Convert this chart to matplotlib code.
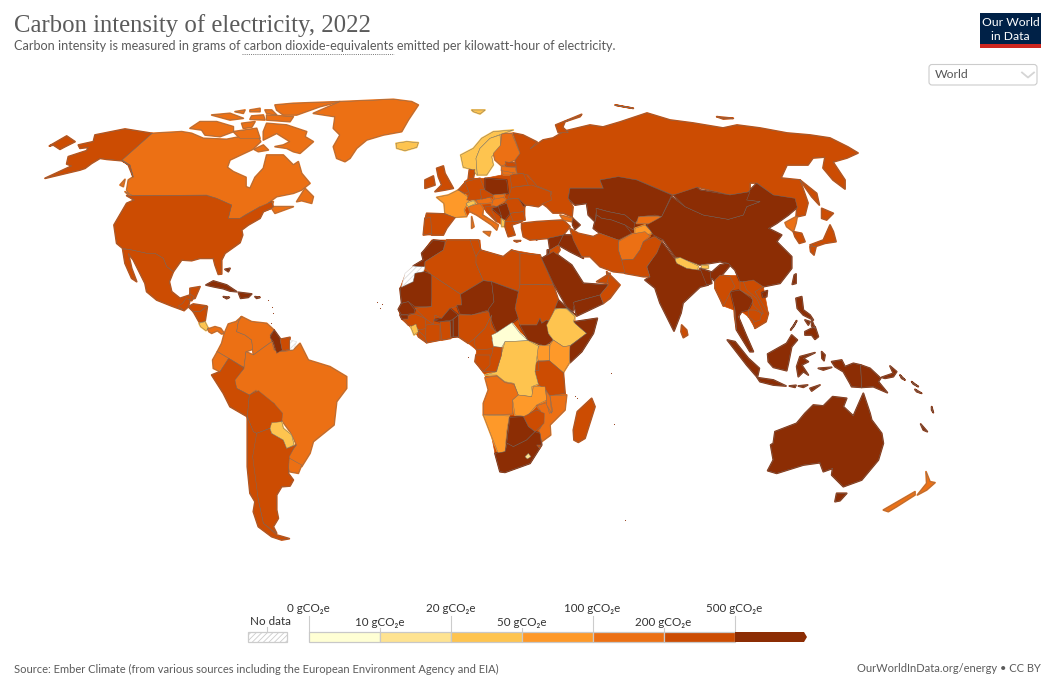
import matplotlib
matplotlib.use('Agg')
import matplotlib.pyplot as plt
from matplotlib.patches import Polygon, Rectangle, FancyBboxPatch

# ---------- legend data ----------
BAND_COLORS = ['#ffffd4', '#fee391', '#fec44f', '#fe9929', '#ec7014', '#cc4c02', '#8c2d04']
BIN_EDGES = [0, 10, 20, 50, 100, 200, 500]
BIN_LABELS = ['0 gCO₂e', '10 gCO₂e', '20 gCO₂e', '50 gCO₂e', '100 gCO₂e', '200 gCO₂e', '500 gCO₂e']

# ---------- map outlines, in local sheets (scale 3) ----------
SHEETS = {'A': (0, 90), 'S': (130, 300), 'E': (390, 110), 'F': (390, 240), 'R': (560, 100), 'O': (640, 280)}
NODATA = -1

# land under the countries, so that traced borders leave no slivers
AFRICA_LAND = [(30,145),(45,105),(70,78),(100,60),(95,40),(125,0),(240,0),(270,0),(272,30),(340,50),(365,30),(450,45),(490,135),(505,180),(555,225),(555,245),(622,235),(610,280),(575,335),(540,368),(520,398),(525,460),(530,465),(525,510),(480,555),(482,585),(455,605),(455,615),(420,670),(345,697),(330,695),(315,640),(305,590),(280,525),(280,490),(295,450),(285,405),(255,365),(258,345),(260,330),(235,310),(205,290),(155,300),(110,308),(85,290),(55,255),(35,238),(25,208),(35,190)]
EUROPE_LAND = [(100,375),(105,325),(110,310),(165,312),(162,280),(140,262),(175,255),(205,240),(225,215),(235,205),(250,205),(270,205),(285,205),(335,195),(335,170),(345,155),(378,160),(440,228),(485,245),(480,265),(445,290),(415,285),(405,285),(405,330),(395,335),(365,345),(375,375),(355,380),(345,350),(320,335),(290,305),(280,295),(278,315),(325,345),(320,360),(305,345),(260,315),(240,305),(230,320),(190,322),(170,355),(160,375)]
CENTRAL_ASIA_LAND = [(25,295),(30,265),(130,265),(120,240),(175,230),(230,240),(335,285),(310,420),(175,425),(120,400),(100,385),(105,365),(85,345),(80,310),(45,315)]
INDOCHINA_LAND = [(225,-15),(385,-10),(370,20),(385,100),(378,125),(345,145),(325,110),(305,95),(295,110),(318,165),(340,215),(330,215),(290,150),(282,90),(250,78),(225,25)]

USA = [(380,317),(620,317),(650,325),(695,345),(685,385),(720,385),(780,350),(815,335),(820,352),(790,365),(780,385),(745,405),(725,420),(728,435),(720,458),(675,490),(665,510),(665,552),(655,553),(645,525),(640,505),(600,505),(575,512),(545,510),(520,545),(500,530),(490,505),(465,490),(440,490),(395,480),(368,475),(350,460),(342,405),(380,340),(403,330)]
ALASKA = [(366,210),(456,130),(375,117),(285,135),(280,155),(235,165),(240,175),(265,172),(260,182),(205,200),(200,222),(215,228),(135,265),(240,240),(255,235),(275,220),(300,205),(320,208),(365,212),(390,225),(400,262),(385,225)]
SEWARD = [(148,168),(200,138),(225,155),(195,170),(180,178),(160,165)]
MEXICO = [(368,477),(395,480),(440,490),(465,490),(490,505),(500,530),(520,545),(508,575),(515,605),(540,625),(570,615),(570,595),(600,590),(585,625),(560,630),(548,660),(515,648),(470,630),(440,605),(435,580),(400,510),(385,490),(395,535),(410,575),(395,565),(375,520)]
CANADA = [(366,210),(456,130),(545,125),(575,130),(610,145),(680,148),(770,130),(782,155),(758,178),(690,210),(682,232),(700,245),(738,262),(738,290),(750,295),(765,262),(790,235),(800,195),(850,195),(880,225),(895,215),(905,250),(930,280),(905,300),(880,310),(830,320),(803,340),(820,335),(815,350),(880,350),(825,370),(815,355),(785,365),(780,350),(735,375),(720,385),(685,385),(695,345),(650,325),(620,315),(390,317),(380,300),(385,270),(400,260),(390,225)]
BAFFIN = [(790,125),(800,100),(860,105),(920,125),(915,140),(940,155),(900,190),(880,185),(860,175),(825,170),(850,165),(870,155),(830,130),(790,150)]
VICTORIA = [(570,115),(600,95),(650,95),(700,110),(700,125),(660,140),(615,135),(605,120)]
ELLESMERE = [(825,45),(880,40),(1020,35),(960,50),(890,75),(850,75),(830,60)]
BANKS = [(635,75),(690,70),(730,85),(690,90)]
ARCTIC1 = [(705,65),(735,60),(730,70)]
ARCTIC2 = [(750,60),(780,55),(780,65),(750,65)]
ARCTIC3 = [(795,60),(815,60),(830,75),(800,70)]
ARCTIC4 = [(755,78),(790,75),(795,90),(750,88)]
ARCTIC5 = [(725,100),(765,95),(755,112),(730,115)]
DEVON = [(800,75),(880,80),(870,95),(800,90)]
SOMERSET = [(700,125),(770,115),(780,145),(720,145)]
SOUTHAMPTON = [(762,178),(790,165),(805,180),(775,185)]
HAIDA = [(360,285),(375,268),(370,290)]
VANCOUVER = [(375,305),(400,330),(395,315)]
NEWFOUNDLAND = [(890,335),(915,295),(940,320),(935,340),(905,332)]
GREENLAND = [(940,70),(1020,35),(1180,28),(1235,35),(1255,45),(1225,90),(1205,125),(1150,135),(1100,150),(1070,175),(1050,205),(1035,215),(1010,205),(1000,170),(1020,135),(1000,115),(1005,80)]
ICELAND = [(1188,160),(1220,155),(1255,158),(1250,172),(1215,182),(1190,175)]
GUATEMALA = [(535,648),(548,640),(558,625),(570,630),(565,650),(552,662)]
BELIZE = [(570,612),(582,620),(575,632),(570,630)]
HONDURAS = [(565,650),(580,642),(620,648),(600,665),(580,665)]
NICARAGUA = [(580,665),(600,665),(622,650),(615,695),(598,697)]
CUBA = [(618,585),(640,573),(680,585),(710,605),(690,603),(670,596),(640,590)]
HISPANIOLA = [(715,607),(755,612),(745,622),(722,625)]
JAMAICA = [(670,620),(688,622),(680,626)]
PUERTO_RICO = [(765,620),(780,622),(770,625)]
BAHAMAS = [(675,538),(690,535),(685,545)]

COSTA_RICA = [(207,70),(225,65),(235,85),(228,92),(212,80)]
PANAMA = [(232,85),(240,85),(255,80),(272,85),(283,100),(275,102),(262,92),(245,100),(237,95)]
COLOMBIA = [(283,100),(275,130),(262,155),(296,175),(305,180),(335,198),(342,200),(348,155),(368,148),(365,120),(345,105),(320,95),(325,65),(335,50),(318,65),(295,72)]
VENEZUELA = [(335,50),(325,65),(320,95),(345,105),(365,120),(370,165),(390,150),(425,125),(420,105),(432,90),(410,70),(365,65)]
ECUADOR = [(262,155),(296,175),(270,215),(250,205),(248,180)]
PERU = [(245,225),(270,215),(296,175),(320,190),(342,205),(315,240),(320,265),(358,285),(352,350),(300,320),(280,280)]
BRAZIL = [(348,155),(370,165),(425,125),(432,150),(460,155),(490,150),(510,130),(535,180),(600,200),(650,230),(650,265),(620,305),(612,375),(550,425),(540,460),(515,500),(470,470),(500,435),(480,395),(458,365),(432,310),(385,290),(378,270),(358,285),(320,265),(313,240),(342,205)]
BOLIVIA = [(358,285),(385,272),(432,310),(458,340),(455,365),(420,385),(380,400),(370,395),(352,352)]
PARAGUAY = [(420,385),(425,368),(455,365),(460,385),(485,405),(492,435),(470,445),(460,420),(425,400)]
GUYANA = [(432,90),(450,115),(457,150),(440,160),(430,125),(420,112)]
SURINAME = [(450,118),(480,112),(478,148),(457,152)]
FRENCH_GUIANA = [(480,120),(500,125),(490,148),(480,148)]
URUGUAY = [(470,470),(515,495),(505,520),(478,515)]
ARGENTINA = [(380,400),(420,385),(425,400),(460,420),(470,445),(497,435),(478,470),(475,520),(490,540),(480,558),(455,560),(440,585),(440,630),(445,655),(430,680),(440,700),(400,670),(385,600),(365,490),(370,420)]
CHILE = [(352,350),(370,395),(380,400),(368,470),(385,600),(400,670),(440,705),(478,716),(455,720),(425,710),(385,680),(370,635),(375,605),(360,580),(352,500)]

NORWAY = [(212,135),(250,115),(275,85),(310,65),(370,60),(335,72),(300,85),(270,115),(258,145),(262,195),(245,178),(220,172)]
SWEDEN = [(258,145),(270,115),(300,85),(330,75),(332,110),(305,140),(310,165),(290,195),(262,195)]
FINLAND = [(335,72),(365,70),(390,130),(375,150),(335,168),(315,150),(310,130),(332,105)]
NOVAYA = [(497,45),(575,13),(570,20),(525,35),(518,52),(535,68),(505,68)]
SVALBARD = [(245,0),(285,0),(270,12),(250,5)]
UK = [(140,175),(160,168),(165,190),(190,235),(165,240),(135,245),(155,225),(145,200)]
IRELAND = [(105,210),(130,198),(135,225),(105,235)]
FRANCE = [(140,262),(175,255),(205,240),(240,265),(222,300),(230,320),(190,322),(165,310),(162,280)]
SPAIN = [(110,310),(165,312),(195,322),(170,355),(160,375),(125,375),(120,335),(105,332)]
PORTUGAL = [(105,325),(122,322),(125,370),(100,375)]
BENELUX = [(205,240),(230,215),(235,245),(225,250)]
GERMANY = [(225,215),(270,205),(285,240),(270,270),(230,270),(238,250)]
DENMARK = [(238,180),(255,178),(250,205),(235,205)]
SWITZERLAND = [(228,280),(250,272),(258,280),(235,290)]
ITALY = [(235,290),(270,280),(280,295),(278,315),(325,345),(320,360),(305,345),(260,315),(240,305)]
SICILY = [(280,365),(302,365),(298,378)]
SARDINIA = [(245,320),(252,350),(245,355)]
AUSTRIA = [(258,270),(300,262),(310,278),(265,282)]
CZECHIA = [(270,238),(305,240),(310,258),(275,268)]
POLAND = [(285,205),(350,210),(355,250),(310,255),(285,240)]
SLOVAKIA = [(310,255),(345,252),(340,265),(315,270)]
HUNGARY = [(310,268),(340,262),(350,270),(320,290),(305,285)]
ROMANIA = [(352,268),(385,265),(405,285),(400,305),(360,310),(345,280)]
MOLDOVA = [(385,265),(398,265),(408,285),(400,290)]
BULGARIA = [(360,310),(400,305),(405,330),(370,335)]
SERBIA = [(322,290),(350,280),(360,310),(345,330),(335,325)]
BOSNIA = [(305,295),(325,290),(335,320)]
CROATIA = [(285,290),(320,290),(305,300),(320,335),(290,305)]
ALBANIA = [(335,325),(345,335),(342,350),(335,350)]
GREECE = [(345,335),(395,335),(365,345),(375,375),(355,380),(345,350)]
CRETE = [(372,392),(392,392),(380,396)]
CYPRUS = [(435,383),(445,382),(440,390)]
UKRAINE = [(365,232),(425,225),(480,245),(485,270),(460,280),(445,290),(415,285),(405,285),(385,265),(355,265)]
BELARUS = [(360,195),(400,190),(415,225),(365,232)]
LITHUANIA = [(335,180),(375,180),(365,195),(340,195)]
LATVIA = [(335,170),(375,172),(380,190),(335,182)]
ESTONIA = [(345,155),(378,160),(378,170),(350,170)]
TURKEY = [(395,340),(440,335),(520,330),(540,350),(520,375),(475,385),(420,390),(400,380),(395,355)]
GEORGIA = [(510,315),(550,325),(545,335),(520,330)]
AZERBAIJAN = [(548,325),(570,345),(555,358),(548,345)]
SYRIA = [(475,385),(520,375),(505,405),(480,420)]
IRAQ = [(520,375),(550,375),(580,445),(540,425),(505,405)]
JORDAN = [(480,420),(505,405),(510,420),(490,450),(475,450)]
ISRAEL = [(472,420),(480,420),(472,445)]

MOROCCO = [(130,0),(165,5),(160,30),(105,65),(103,80),(70,78),(100,60),(95,40)]
W_SAHARA = [(70,78),(105,80),(100,95),(75,100),(70,125),(35,140),(45,100)]
MAURITANIA = [(30,145),(70,125),(75,100),(103,95),(130,105),(125,200),(75,200),(55,185),(35,190)]
ALGERIA = [(105,65),(160,30),(170,0),(240,0),(260,25),(258,70),(280,122),(212,163),(125,105),(105,85)]
TUNISIA = [(240,0),(265,0),(272,30),(258,50)]
LIBYA = [(258,50),(270,30),(340,50),(365,30),(390,40),(390,155),(305,125),(280,122),(258,70)]
EGYPT = [(390,40),(450,45),(490,135),(390,133)]
SUDAN = [(390,133),(490,135),(505,180),(495,205),(480,245),(470,240),(455,250),(450,235),(440,255),(390,255),(375,205),(385,155)]
MALI = [(125,105),(212,163),(215,195),(180,205),(155,235),(135,225),(130,253),(105,235),(75,205),(125,200)]
NIGER = [(215,195),(212,163),(280,122),(305,125),(312,185),(295,210),(245,225),(210,222),(200,195)]
NIGERIA = [(200,225),(245,225),(295,215),(305,225),(285,265),(255,295),(235,310),(205,290)]
CHAD = [(305,125),(385,155),(375,205),(385,235),(365,250),(320,278),(300,230),(295,208),(312,185)]
BENIN = [(190,238),(205,225),(205,290),(190,290)]
TOGO = [(180,240),(190,240),(190,292),(182,292)]
GHANA = [(150,245),(180,245),(182,295),(155,300)]
IVORY_COAST = [(108,255),(130,253),(150,255),(150,300),(110,308),(105,290)]
BURKINA = [(130,240),(155,235),(180,205),(205,225),(185,240),(150,245)]
SENEGAL = [(25,208),(35,190),(55,185),(75,210),(72,220),(35,225)]
GUINEA_B = [(30,225),(55,225),(55,238),(35,238)]
GUINEA = [(35,232),(75,222),(105,235),(108,265),(90,270),(70,260),(55,255)]
SIERRA_L = [(62,260),(78,252),(85,275),(72,285)]
LIBERIA = [(85,272),(105,290),(110,308),(85,290)]
CAMEROON = [(285,265),(305,225),(300,260),(320,278),(305,300),(320,325),(260,330),(252,310),(255,295)]
CAR = [(305,285),(320,278),(365,248),(390,280),(415,302),(345,305),(335,322),(310,320)]
S_SUDAN = [(390,255),(440,255),(450,235),(455,250),(470,240),(480,245),(475,280),(490,300),(465,318),(415,302)]
ERITREA = [(495,205),(505,180),(555,225),(530,205),(510,205)]
ETHIOPIA = [(495,208),(510,205),(530,207),(555,230),(550,245),(590,280),(540,317),(520,320),(490,300),(475,280),(470,255)]
SOMALIA = [(555,245),(622,235),(610,280),(575,335),(540,368),(538,320),(590,280),(555,250)]
KENYA = [(490,300),(520,320),(540,317),(538,368),(520,398),(478,362),(480,315)]
UGANDA = [(445,318),(478,315),(478,362),(445,362),(440,345)]
RWANDA = [(435,368),(445,365),(447,392),(433,390)]
TANZANIA = [(445,365),(478,362),(520,398),(525,460),(480,467),(445,432),(435,395)]
DRC = [(345,305),(415,302),(445,318),(435,395),(445,432),(425,440),(428,470),(385,465),(372,430),(345,425),(320,405),(285,405),(320,395),(335,340)]
CONGO = [(310,320),(335,322),(335,345),(318,395),(280,395),(290,375),(305,345)]
GABON = [(258,345),(300,345),(300,375),(280,395),(255,365)]
ANGOLA = [(285,413),(320,408),(345,428),(372,433),(385,465),(368,480),(368,522),(280,525),(280,490),(295,450)]
ZAMBIA = [(368,480),(385,465),(425,470),(430,440),(465,440),(470,480),(440,495),(410,530),(375,525)]
MALAWI = [(468,450),(480,470),(485,520),(470,495)]
MOZAMBIQUE = [(480,467),(530,465),(525,510),(480,555),(482,585),(455,605),(448,570),(462,545),(450,510),(440,497),(470,488),(478,520),(488,515)]
ZIMBABWE = [(400,530),(440,510),(463,520),(462,550),(435,575),(415,560)]
NAMIBIA = [(280,525),(358,528),(350,575),(345,635),(325,640),(305,590)]
BOTSWANA = [(360,532),(400,530),(415,560),(435,575),(410,600),(370,620),(350,610)]
SOUTH_AFRICA = [(315,640),(345,635),(352,610),(370,620),(410,600),(435,575),(450,580),(455,615),(420,670),(345,697),(330,695)]
LESOTHO = [(405,650),(415,640),(423,650),(412,657)]
ESWATINI = [(440,615),(452,615),(448,625)]
MADAGASCAR = [(550,570),(562,515),(605,475),(615,500),(585,595),(565,607),(552,600)]
SAUDI = [(455,55),(490,35),(545,75),(580,130),(655,135),(630,165),(555,185),(548,215),(530,200),(490,130)]
YEMEN = [(550,187),(630,165),(640,190),(560,228)]
OMAN = [(630,165),(655,135),(650,95),(690,135),(660,175),(640,190)]
UAE = [(650,130),(660,100),(620,125)]

KAZAKHSTAN = [(30,265),(130,265),(120,240),(175,230),(230,240),(335,285),(305,350),(285,345),(240,350),(225,370),(195,345),(145,335),(110,325),(105,365),(85,345),(80,310),(45,315),(25,295)]
UZBEKISTAN = [(108,325),(145,335),(195,345),(225,370),(220,390),(195,375),(155,360),(125,355),(110,345)]
TURKMENISTAN = [(105,365),(110,345),(125,355),(155,360),(195,375),(215,400),(175,420),(120,400),(100,385)]
KYRGYZSTAN = [(235,350),(305,350),(280,375),(255,370),(230,370)]
TAJIKISTAN = [(225,385),(255,375),(280,400),(250,405),(225,400)]
AFGHANISTAN = [(175,425),(215,402),(255,395),(270,408),(250,425),(240,450),(220,478),(185,480),(175,450)]
IRAN = [(30,385),(55,400),(100,410),(120,400),(175,420),(175,450),(185,480),(205,520),(160,515),(120,500),(90,470),(65,470),(40,420)]
PAKISTAN = [(185,480),(220,478),(240,450),(250,425),(285,410),(305,425),(290,460),(260,500),(270,530),(250,530),(195,520)]
CHINA = [(335,290),(375,320),(430,345),(505,358),(550,345),(560,320),(600,305),(555,300),(560,280),(590,250),(640,285),(705,295),(712,322),(685,345),(650,370),(625,385),(665,405),(650,425),(695,470),(695,505),(660,550),(610,560),(585,570),(560,550),(540,545),(525,510),(505,490),(480,485),(420,495),(345,470),(310,420),(280,405),(260,375),(305,350)]
MONGOLIA = [(340,285),(410,262),(420,270),(510,285),(570,275),(560,300),(600,305),(560,320),(550,345),(505,358),(430,345),(375,320)]
N_KOREA = [(712,348),(708,370),(700,395),(680,380),(675,368)]
S_KOREA = [(700,395),(725,400),(735,425),(718,430),(705,410)]
HONSHU = [(750,435),(790,420),(810,375),(820,395),(828,425),(795,430),(765,440)]
HOKKAIDO = [(785,325),(820,340),(800,360),(785,355)]
KYUSHU = [(750,440),(768,440),(762,465),(752,455)]
NEPAL = [(345,478),(360,472),(415,498),(413,510),(380,505),(350,490)]
BHUTAN = [(425,495),(445,497),(445,505),(425,505)]
BANGLADESH = [(420,505),(450,515),(455,550),(440,555),(430,530)]
TAIWAN = [(703,525),(708,522),(708,550),(697,553)]
HAINAN = [(605,578),(622,572),(620,590),(608,592)]
SAKHALIN = [(720,240),(770,280),(778,315),(755,290)]
SEVERNAYA = [(470,50),(520,55),(490,57)]
FRANZ = [(165,15),(220,25),(190,20)]
# Russia and India cross several sheets, so they sit on the page sheet
RUSSIA = [(513,133),(523,135),(537,142),(530,149),(543,140),(553,138),(565,131),(590,125),(603,127),(620,122),(647,113),(670,120),(693,123),(723,128),(737,125),(760,128),(787,133),(810,135),(830,138),(848,147),(858,153),(847,158),(833,162),(845,180),(845,189),(833,180),(823,168),(825,157),(813,158),(808,165),(787,165),(781,178),(800,180),(808,203),(805,215),(796,217),(797,207),(790,198),(773,195),(757,183),(750,183),(750,192),(730,195),(697,187),(693,192),(673,195),(637,180),(618,177),(600,180),(603,188),(570,188),(568,198),(573,207),(572,217),(563,213),(553,213),(547,207),(540,202),(550,198),(552,192),(537,186),(528,175),(517,173),(515,160),(520,153)]
INDIA = [(655,237),(662,242),(674,258),(695,268),(698,270),(712,272),(720,265),(733,262),(722,275),(718,285),(712,278),(708,285),(700,287),(683,303),(681,313),(674,331),(660,303),(655,288),(645,280),(650,277),(647,267),(658,250)]

MYANMAR = [(225,0),(240,-15),(270,-10),(285,20),(272,35),(250,78),(242,60),(225,25)]
MYANMAR_TAIL = [(282,75),(297,110),(290,150),(284,110)]
THAILAND = [(272,35),(300,30),(340,60),(325,90),(305,95),(295,110),(318,165),(340,215),(330,215),(290,150),(285,90),(275,50)]
LAOS = [(300,5),(335,5),(355,60),(375,100),(365,100),(340,75),(335,50),(300,30)]
VIETNAM = [(310,5),(340,0),(370,20),(345,35),(385,100),(378,125),(345,145),(340,125),(370,100),(350,55),(320,30)]
CAMBODIA = [(325,90),(345,90),(365,100),(360,120),(345,125),(325,110)]
SRI_LANKA = [(125,135),(140,150),(143,165),(130,173),(123,155)]
SUMATRA = [(262,180),(285,185),(325,235),(358,265),(352,292),(320,255)]
JAVA = [(352,293),(400,300),(438,318),(400,315),(360,305)]
BALI = [(448,318),(468,316),(465,322)]
FLORES = [(475,318),(503,315),(490,322)]
TIMOR = [(510,325),(540,315),(515,333)]
BORNEO = [(383,222),(440,190),(455,165),(472,180),(455,200),(445,250),(440,272),(400,262),(385,245)]
SULAWESI = [(470,260),(480,230),(525,218),(490,235),(505,245),(485,255),(505,285),(490,275),(475,290)]
LUZON = [(468,55),(485,50),(490,90),(510,105),(520,120),(490,105),(472,85)]
MINDANAO = [(495,155),(525,140),(535,170),(525,178),(515,165),(495,165)]
PALAWAN = [(452,150),(470,122),(462,138)]
VISAYAS = [(495,120),(510,125),(505,135)]
SAMAR = [(515,120),(525,145),(515,138)]
W_PAPUA = [(575,245),(605,240),(615,260),(640,250),(662,255),(665,322),(635,320),(630,310),(610,275),(585,260)]
PNG = [(662,255),(690,265),(722,295),(715,305),(742,338),(700,320),(665,322)]
NEW_BRITAIN = [(725,292),(760,280),(750,258),(770,275),(760,290),(735,295)]
SOLOMON1 = [(780,285),(795,300),(785,295)]
SOLOMON2 = [(815,305),(835,320),(820,312)]
SOLOMON3 = [(825,328),(845,340),(830,335)]
VANUATU = [(875,380),(880,398),(875,390)]
N_CALEDONIA = [(842,432),(862,455),(850,450)]
HALMAHERA = [(545,215),(555,225),(552,242),(546,235)]
SERAM = [(535,265),(575,262),(550,270)]
AUSTRALIA = [(400,490),(405,455),(470,430),(495,400),(520,375),(550,378),(578,350),(620,355),(610,380),(640,408),(670,340),(690,400),(695,420),(725,460),(730,490),(715,540),(665,600),(610,620),(575,585),(578,565),(550,575),(540,548),(490,555),(410,580),(383,572),(400,540),(392,495)]
TASMANIA = [(585,665),(590,640),(620,640),(600,662)]
NZ_SOUTH = [(730,690),(825,635),(825,645),(770,680),(745,695)]
NZ_NORTH = [(832,645),(860,610),(858,575),(870,605),(885,608),(860,630)]

LAND = [(AFRICA_LAND,5,'F'),(EUROPE_LAND,5,'E'),(CENTRAL_ASIA_LAND,6,'R'),(INDOCHINA_LAND,5,'O')]

# (outline, band, sheet); band indexes BAND_COLORS
COUNTRIES = [
 (CANADA,4,'A'),(BAFFIN,4,'A'),(VICTORIA,4,'A'),(ELLESMERE,4,'A'),(BANKS,4,'A'),(ARCTIC1,4,'A'),(ARCTIC2,4,'A'),(ARCTIC3,4,'A'),(ARCTIC4,4,'A'),(ARCTIC5,4,'A'),(DEVON,4,'A'),(SOMERSET,4,'A'),(SOUTHAMPTON,4,'A'),(HAIDA,4,'A'),(VANCOUVER,4,'A'),(NEWFOUNDLAND,4,'A'),
 (GREENLAND,4,'A'),(ICELAND,2,'A'),(USA,5,'A'),(ALASKA,5,'A'),(SEWARD,5,'A'),(MEXICO,5,'A'),(GUATEMALA,5,'A'),(BELIZE,5,'A'),(HONDURAS,5,'A'),(NICARAGUA,5,'A'),
 (CUBA,6,'A'),(HISPANIOLA,6,'A'),(JAMAICA,6,'A'),(PUERTO_RICO,6,'A'),(BAHAMAS,6,'A'),
 (COSTA_RICA,2,'S'),(PANAMA,4,'S'),(COLOMBIA,4,'S'),(VENEZUELA,4,'S'),(ECUADOR,4,'S'),(BRAZIL,4,'S'),(PERU,5,'S'),(BOLIVIA,5,'S'),(GUYANA,6,'S'),(SURINAME,5,'S'),(FRENCH_GUIANA,NODATA,'S'),(URUGUAY,4,'S'),(ARGENTINA,5,'S'),(CHILE,5,'S'),(PARAGUAY,2,'S'),
 (RUSSIA,5,'P'),(INDIA,6,'P'),
 (NORWAY,2,'E'),(SWEDEN,2,'E'),(FINLAND,4,'E'),(NOVAYA,5,'E'),(SVALBARD,2,'E'),(UK,5,'E'),(IRELAND,5,'E'),(FRANCE,3,'E'),(SPAIN,5,'E'),(PORTUGAL,5,'E'),(BENELUX,5,'E'),(GERMANY,5,'E'),(DENMARK,5,'E'),(ITALY,4,'E'),(SWITZERLAND,2,'E'),(SICILY,4,'E'),(SARDINIA,4,'E'),(AUSTRIA,4,'E'),(CZECHIA,5,'E'),(POLAND,6,'E'),(SLOVAKIA,4,'E'),(HUNGARY,4,'E'),(ROMANIA,5,'E'),(MOLDOVA,6,'E'),(BULGARIA,5,'E'),(CROATIA,5,'E'),(SERBIA,6,'E'),(BOSNIA,6,'E'),(ALBANIA,2,'E'),(GREECE,5,'E'),(CRETE,5,'E'),(CYPRUS,6,'E'),(UKRAINE,5,'E'),(BELARUS,5,'E'),(LITHUANIA,4,'E'),(LATVIA,4,'E'),(ESTONIA,5,'E'),(TURKEY,5,'E'),(GEORGIA,4,'E'),(AZERBAIJAN,6,'E'),(SYRIA,6,'E'),(IRAQ,6,'E'),(JORDAN,5,'E'),(ISRAEL,6,'E'),
 (MOROCCO,6,'F'),(W_SAHARA,NODATA,'F'),(MAURITANIA,6,'F'),(ALGERIA,5,'F'),(TUNISIA,5,'F'),(LIBYA,5,'F'),(EGYPT,5,'F'),(SUDAN,5,'F'),(MALI,5,'F'),(NIGER,6,'F'),(NIGERIA,5,'F'),(CHAD,6,'F'),(BENIN,6,'F'),(TOGO,6,'F'),(GHANA,5,'F'),(IVORY_COAST,5,'F'),(BURKINA,6,'F'),(SENEGAL,6,'F'),(GUINEA,5,'F'),(GUINEA_B,6,'F'),(SIERRA_L,2,'F'),(LIBERIA,5,'F'),(CAMEROON,5,'F'),(CAR,0,'F'),(S_SUDAN,6,'F'),(ERITREA,6,'F'),(ETHIOPIA,2,'F'),(SOMALIA,6,'F'),(KENYA,3,'F'),(UGANDA,3,'F'),(TANZANIA,5,'F'),(RWANDA,5,'F'),(DRC,2,'F'),(CONGO,5,'F'),(GABON,5,'F'),(ANGOLA,4,'F'),(ZAMBIA,3,'F'),(MOZAMBIQUE,4,'F'),(MALAWI,4,'F'),(ZIMBABWE,5,'F'),(NAMIBIA,3,'F'),(BOTSWANA,6,'F'),(SOUTH_AFRICA,6,'F'),(LESOTHO,1,'F'),(ESWATINI,5,'F'),(MADAGASCAR,5,'F'),(SAUDI,6,'F'),(YEMEN,6,'F'),(OMAN,5,'F'),(UAE,5,'F'),
 (KAZAKHSTAN,6,'R'),(UZBEKISTAN,6,'R'),(TURKMENISTAN,6,'R'),(KYRGYZSTAN,4,'R'),(TAJIKISTAN,3,'R'),(AFGHANISTAN,4,'R'),(IRAN,5,'R'),(PAKISTAN,5,'R'),(CHINA,6,'R'),(MONGOLIA,6,'R'),(N_KOREA,4,'R'),(S_KOREA,5,'R'),(HONSHU,5,'R'),(HOKKAIDO,5,'R'),(KYUSHU,5,'R'),(NEPAL,2,'R'),(BHUTAN,2,'R'),(BANGLADESH,6,'R'),(TAIWAN,6,'R'),(HAINAN,6,'R'),(SAKHALIN,5,'R'),(SEVERNAYA,5,'R'),(FRANZ,5,'R'),
 (MYANMAR,5,'O'),(MYANMAR_TAIL,5,'O'),(THAILAND,6,'O'),(LAOS,5,'O'),(VIETNAM,5,'O'),(CAMBODIA,5,'O'),(SRI_LANKA,5,'O'),(SUMATRA,6,'O'),(JAVA,6,'O'),(BALI,6,'O'),(FLORES,6,'O'),(TIMOR,6,'O'),(BORNEO,6,'O'),(SULAWESI,6,'O'),(LUZON,6,'O'),(MINDANAO,6,'O'),(PALAWAN,6,'O'),(VISAYAS,6,'O'),(SAMAR,6,'O'),(W_PAPUA,6,'O'),(PNG,6,'O'),(NEW_BRITAIN,6,'O'),(SOLOMON1,6,'O'),(SOLOMON2,6,'O'),(SOLOMON3,6,'O'),(VANUATU,6,'O'),(N_CALEDONIA,6,'O'),(HALMAHERA,6,'O'),(SERAM,6,'O'),(AUSTRALIA,6,'O'),(TASMANIA,6,'O'),(NZ_SOUTH,4,'O'),(NZ_NORTH,4,'O'),
]
TINY_ISLES_X = [268,272,273,271,377,382,380,468,611,575,577,614,625]
TINY_ISLES_Y = [300,307,313,323,302,304,308,357,373,396,398,424,520]

plt.rcParams['font.family'] = ['Lato', 'DejaVu Sans']
plt.rcParams['hatch.linewidth'] = 0.6
INK = '#5b5b5b'

fig = plt.figure(figsize=(10.48, 6.82), dpi=100, facecolor='white')
ax = fig.add_axes([0, 0, 1, 1])
ax.set_xlim(0, 1048)
ax.set_ylim(682, 0)
ax.axis('off')

def page(pts, sheet):
    if sheet == 'P':
        return pts
    ox, oy = SHEETS[sheet]
    return [(x / 3 + ox, y / 3 + oy) for x, y in pts]

for pts, band, sheet in LAND:
    ax.add_patch(Polygon(page(pts, sheet), closed=True, facecolor=BAND_COLORS[band], edgecolor=BAND_COLORS[band], linewidth=0.5, zorder=0))

for pts, band, sheet in COUNTRIES:
    xy = page(pts, sheet)
    if band == NODATA:
        ax.add_patch(Polygon(xy, closed=True, facecolor='white', edgecolor='#dddddd', hatch='//////', linewidth=0.4, zorder=1.5))
    else:
        col = BAND_COLORS[band]
        ax.add_patch(Polygon(xy, closed=True, facecolor=col, edgecolor=col, linewidth=1.3, joinstyle='round', zorder=1))
        ax.add_patch(Polygon(xy, closed=True, facecolor=col, edgecolor='#6e6e6e', linewidth=0.3, joinstyle='round', zorder=2))
ax.scatter(TINY_ISLES_X, TINY_ISLES_Y, s=0.6, color=BAND_COLORS[6], linewidths=0, zorder=2)

# header
ax.text(14, 26, 'Carbon intensity of electricity, 2022', family='Liberation Serif', fontsize=17.8, color='#5b5b5b', va='center', ha='left')
ax.text(14, 46.5, 'Carbon intensity is measured in grams of carbon dioxide-equivalents emitted per kilowatt-hour of electricity.', fontsize=9.1, color=INK, va='center', ha='left')
ax.plot([242, 394], [53.5, 53.5], color='#777777', lw=0.7, ls=(0, (1, 1.2)))

# logo
ax.add_patch(Rectangle((980, 13), 61, 35, facecolor='#002147', edgecolor='none'))
ax.add_patch(Rectangle((980, 44), 61, 4, facecolor='#ce261e', edgecolor='none'))
ax.text(1010.5, 22.5, 'Our World', color='white', fontsize=8.7, ha='center', va='center')
ax.text(1010.5, 36, 'in Data', color='white', fontsize=8.7, ha='center', va='center')

# dropdown
ax.add_patch(FancyBboxPatch((929, 64.5), 108, 20.5, boxstyle='round,pad=0,rounding_size=3', facecolor='white', edgecolor='#cccccc', linewidth=0.8))
ax.text(935, 75, 'World', fontsize=8.8, color='#555555', va='center')
ax.plot([1022, 1028, 1034], [72.5, 77.5, 72.5], color='#d5d5d5', lw=1.3)

# legend
BAR_X0 = 309
BAR_W = 71
BAR_Y0, BAR_H = 632, 10
for i, col in enumerate(BAND_COLORS):
    x = BAR_X0 + i * BAR_W
    w = BAR_W - 5 if i == 6 else BAR_W
    ax.add_patch(Rectangle((x, BAR_Y0), w, BAR_H, facecolor=col, edgecolor='#c8c8c8' if i < 6 else 'none', linewidth=0.9, zorder=3))
x_end = BAR_X0 + 7 * BAR_W
ax.add_patch(Polygon([(x_end - 6, BAR_Y0), (x_end - 2, BAR_Y0), (x_end + 1, BAR_Y0 + BAR_H / 2), (x_end - 2, BAR_Y0 + BAR_H), (x_end - 6, BAR_Y0 + BAR_H)], closed=True, facecolor=BAND_COLORS[6], edgecolor='none', zorder=3))
for i, label in enumerate(BIN_LABELS):
    x = BAR_X0 + i * BAR_W
    top = i % 2 == 0
    ax.plot([x, x], [616 if top else 628, BAR_Y0], color='#cccccc', lw=0.8, zorder=2)
    ax.text(x - 0.5, 609 if top else 622, label, fontsize=8.4, color='#333333', ha='center', va='center')
ax.add_patch(Rectangle((248, 632), 39, 10, facecolor='white', edgecolor='#cccccc', hatch='//////', linewidth=0.9))
ax.text(270, 621.5, 'No data', fontsize=8.4, color='#333333', ha='center', va='center')
ax.plot([267, 267], [627, 632], color='#cccccc', lw=0.8)

# footer
ax.text(14, 669, 'Source: Ember Climate (from various sources including the European Environment Agency and EIA)', fontsize=8.0, color=INK, va='center')
ax.text(1041, 669, 'OurWorldInData.org/energy • CC BY', fontsize=8.0, color=INK, va='center', ha='right')

fig.savefig('out.png', dpi=100, facecolor='white')
